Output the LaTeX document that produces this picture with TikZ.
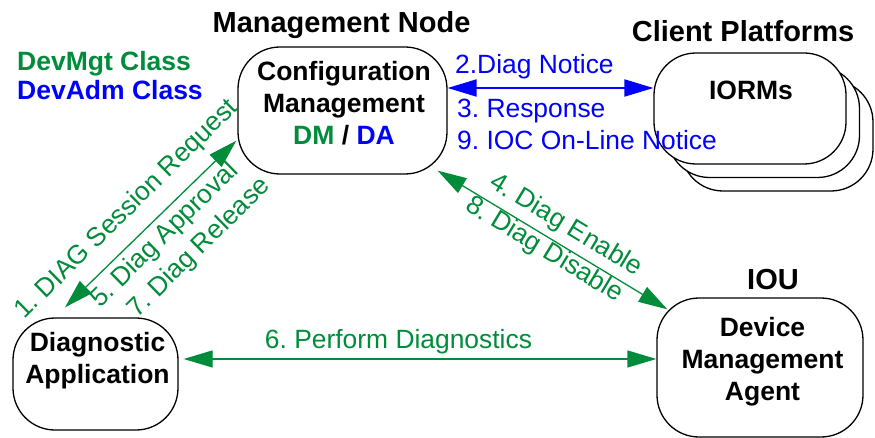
\documentclass[tikz,border=0pt]{standalone}
\usepackage{fontspec}
\setmainfont{Liberation Sans}
\usetikzlibrary{arrows.meta,calc}
\definecolor{MgtClr}{RGB}{0,140,58}
\definecolor{AdmClr}{RGB}{0,0,255}
\newcommand{\lblfont}{\fontsize{26.4}{32.5}\selectfont}
\newcommand{\boxfont}{\fontsize{26.5}{32}\selectfont\bfseries}
\newcommand{\ttlfont}{\fontsize{29}{34}\selectfont\bfseries}
\frenchspacing

\begin{document}
\begin{tikzpicture}[x=1pt,y=-1pt,
  box/.style={draw=black,line width=1.3pt,rounded corners=42pt,fill=white,inner sep=0pt},
  boxtext/.style={font=\boxfont,align=center,anchor=base,inner sep=0pt},
  title/.style={font=\ttlfont,anchor=base,inner sep=0pt},
  legend/.style={font=\boxfont,anchor=base west,inner sep=0pt},
  lbl/.style={font=\lblfont,inner sep=0pt},
  mgtarrow/.style={draw=MgtClr,line width=1.3pt,{Triangle[length=29pt,width=17pt]}-{Triangle[length=29pt,width=17pt]}},
  admarrow/.style={draw=AdmClr,line width=2pt,{Triangle[length=29pt,width=17pt]}-{Triangle[length=29pt,width=17pt]}}]

\useasboundingbox (0,0) rectangle (875,438);

\node[box,minimum width=209pt,minimum height=127pt] (cfg) at (342.5,110.5) {};
\foreach \k in {2,1}
  \node[box,minimum width=192pt,minimum height=111pt] (iorm\k) at (750+13.5*\k,108.5+13.5*\k) {};
\node[box,minimum width=192pt,minimum height=111pt] (iorm) at (750,108.5) {};
\node[box,minimum width=165pt,minimum height=112pt] (diag) at (95.5,374) {};
\node[box,minimum width=206pt,minimum height=139pt] (dma) at (760,367.5) {};

\node[boxtext] (cfgtxt) at (344,145) {Configuration\\Management\\\textcolor{MgtClr}{DM} / \textcolor{AdmClr}{DA}};
\node[boxtext] (iormtxt) at (751,100) {IORMs};
\node[boxtext] (diagtxt) at (97.5,383) {Diagnostic\\Application};
\node[boxtext] (dmatxt) at (762.5,400) {Device\\Management\\Agent};

\node[title] (mgtnode) at (341.5,33) {Management Node};
\node[title] (client) at (743,42) {Client Platforms};
\node[title] (iou) at (773,289) {IOU};

\node[legend,text=MgtClr] (mgtcls) at (17,71) {DevMgt Class};
\node[legend,text=AdmClr] (admcls) at (17,100) {DevAdm Class};

\coordinate (blue) at ([yshift=22.5pt]cfg.east);
\draw[admarrow] (blue) -- (blue -| iorm.west);
\draw[mgtarrow] ([xshift=-30.5pt,yshift=10pt]diag.north) -- ([xshift=-1pt,yshift=34pt]cfg.south west);
\draw[mgtarrow] ([xshift=-10pt,yshift=4pt]cfg.south east) -- ([xshift=11pt,yshift=-12pt]dma.north west);
\coordinate (horiz) at ([xshift=5pt,yshift=15pt]diag.east);
\draw[mgtarrow] (horiz) -- (horiz -| dma.west);

\node[lbl,text=AdmClr,anchor=base west] (notice) at (455,74) {2.Diag Notice};
\node[lbl,text=AdmClr,anchor=base west] (response) at (457,118) {3. Response};
\node[lbl,text=AdmClr,anchor=base west] (online) at (457,150) {9. IOC On-Line Notice};

\node[lbl,text=MgtClr,rotate=44.5] (sessreq) at (127,209.7) {1. DIAG Session Request};
\node[lbl,text=MgtClr,rotate=44.5] (approval) at (164.9,235.6) {5. Diag Approval};
\node[lbl,text=MgtClr,rotate=44.5] (release) at (199.3,248.1) {7. Diag Release};
\node[lbl,text=MgtClr,rotate=-31.2] (enable) at (565.8,225.8) {4. Diag Enable};
\node[lbl,text=MgtClr,rotate=-31.2] (disable) at (544.1,250.1) {8. Diag Disable};
\node[lbl,text=MgtClr,anchor=base] (perform) at (398.5,348) {6. Perform Diagnostics};

\end{tikzpicture}
\end{document}
